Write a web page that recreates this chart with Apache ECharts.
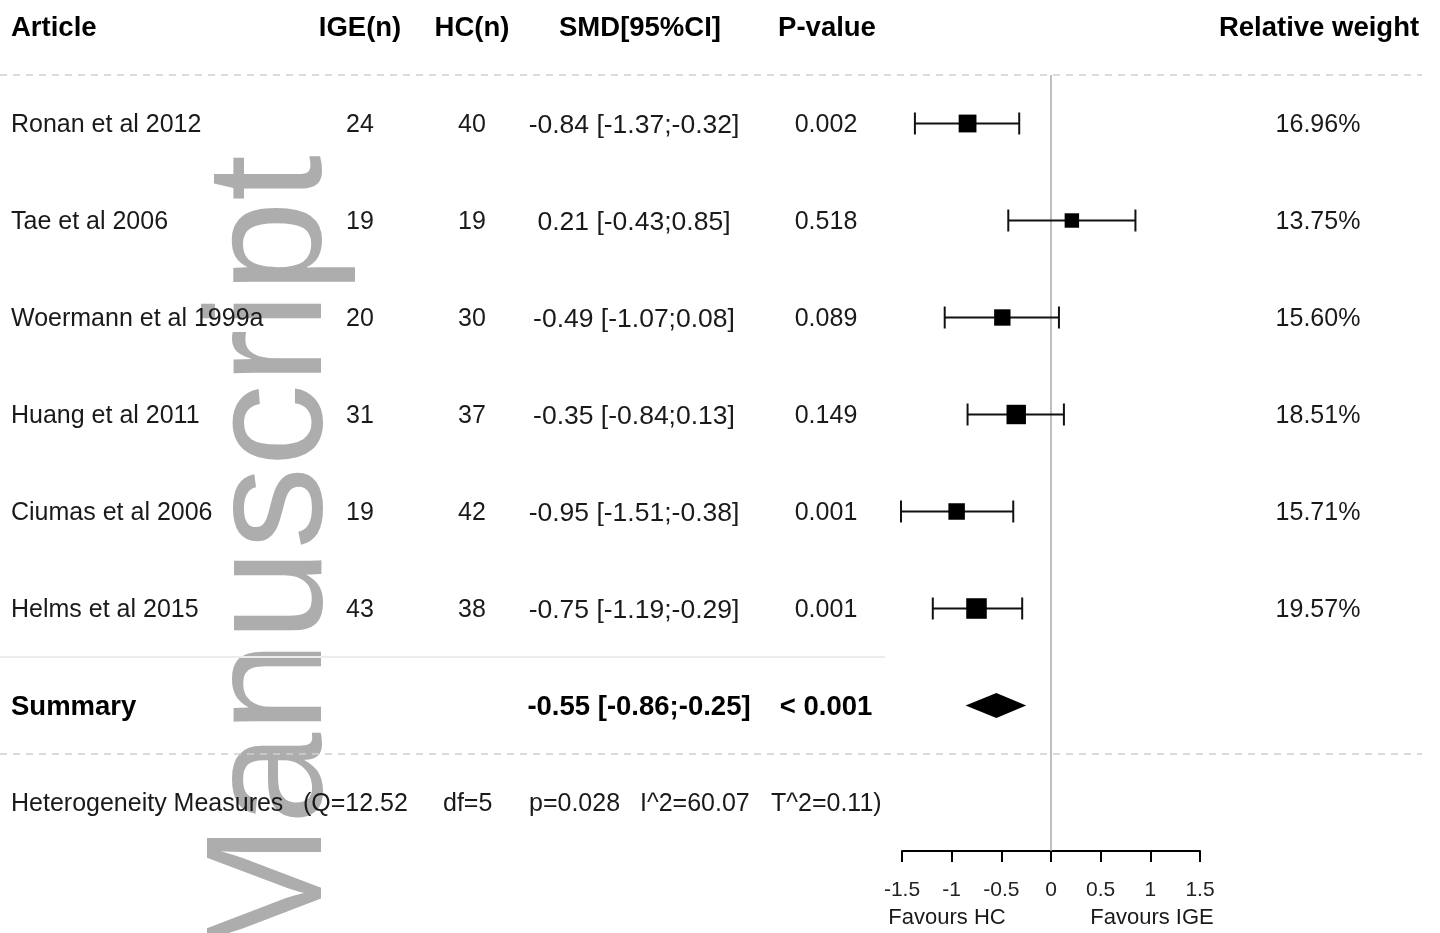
<!DOCTYPE html>
<html><head><meta charset="utf-8">
<script src="https://cdn.jsdelivr.net/npm/echarts@6/dist/echarts.min.js"></script>
<style>html,body{margin:0;padding:0;background:#fff}#c{width:1440px;height:933px}</style>
</head><body><div id="c"></div>
<script>
// ---- data ----
const articles = ['Ronan et al 2012','Tae et al 2006','Woermann et al 1999a','Huang et al 2011','Ciumas et al 2006','Helms et al 2015'];
const igeN = [24,19,20,31,19,43];
const hcN = [40,19,30,37,42,38];
const smd = [-0.84,0.21,-0.49,-0.35,-0.95,-0.75];
const ciLow = [-1.37,-0.43,-1.07,-0.84,-1.51,-1.19];
const ciHigh = [-0.32,0.85,0.08,0.13,-0.38,-0.29];
const pValues = ['0.002','0.518','0.089','0.149','0.001','0.001'];
const weights = [16.96,13.75,15.60,18.51,15.71,19.57];
const summaryLabel = 'Summary';
const summaryEst = -0.55, summaryLow = -0.86, summaryHigh = -0.25;
const summaryP = '< 0.001';
const headers = ['Article','IGE(n)','HC(n)','SMD[95%CI]','P-value','Relative weight'];
const heteroTitle = 'Heterogeneity Measures';
const heteroStats = ['(Q=12.52','df=5','p=0.028','I^2=60.07','T^2=0.11)'];
const xTicks = [-1.5,-1,-0.5,0,0.5,1,1.5];
const xTickLabels = ['-1.5','-1','-0.5','0','0.5','1','1.5'];
const favourLabels = ['Favours HC','Favours IGE'];
const watermark = 'Manuscript';

// ---- layout ----
const FONT = '"Liberation Sans", Arial, sans-serif';
const colX = {ige:360, hc:472, smd:634, p:826, w:1318};
const heteroX = [303, 443, 529, 640, 771];
const TY = 2; // text baseline nudge

const chart = echarts.init(document.getElementById('c'), null, {renderer:'canvas'});
const fmt = v => v.toFixed(2);
const studyData = smd.map((v,i)=>[i+1, ciLow[i], ciHigh[i], v, weights[i]]);

const option = {
  animation:false,
  backgroundColor:'#fff',
  grid:{left:902, right:240, top:75, bottom:82, containLabel:false, outerBoundsMode:'none'},
  xAxis:{type:'value', min:-1.5, max:1.5, interval:0.5,
    axisLine:{show:true, onZero:false, lineStyle:{color:'#000', width:2}},
    axisTick:{show:true, length:11, lineStyle:{color:'#000', width:2}},
    axisLabel:{margin:29, color:'#222', fontFamily:FONT, fontSize:21,
      formatter:v=>{const k=xTicks.findIndex(t=>Math.abs(t-v)<1e-9);return k>=0?xTickLabels[k]:'';}},
    splitLine:{show:false}},
  yAxis:{type:'value', min:0.5, max:8.5, inverse:true, show:false, splitLine:{show:false}},
  series:[
    {type:'custom', z:5, clip:false,
     encode:{x:[1,2,3], y:0},
     data:studyData,
     renderItem:(params, api)=>{
       const row=api.value(0), lo=api.value(1), hi=api.value(2), est=api.value(3), w=api.value(4);
       const a=api.coord([lo,row]), b=api.coord([hi,row]), e=api.coord([est,row]);
       const s=w*1.05, cap=11;
       const st={stroke:'#111', lineWidth:2};
       return {type:'group', children:[
         {type:'line', shape:{x1:a[0],y1:a[1],x2:b[0],y2:b[1]}, style:st},
         {type:'line', shape:{x1:a[0],y1:a[1]-cap,x2:a[0],y2:a[1]+cap}, style:st},
         {type:'line', shape:{x1:b[0],y1:b[1]-cap,x2:b[0],y2:b[1]+cap}, style:st},
         {type:'rect', shape:{x:e[0]-s/2,y:e[1]-s/2,width:s,height:s}, style:{fill:'#000'}}
       ]};
     }},
    {type:'custom', z:5, clip:false,
     encode:{x:[1,2,3], y:0},
     data:[[7, summaryLow, summaryHigh, summaryEst]],
     renderItem:(params, api)=>{
       const row=api.value(0);
       const a=api.coord([api.value(1),row]), b=api.coord([api.value(2),row]), e=api.coord([api.value(3),row]);
       const h=12.5;
       return {type:'polygon', shape:{points:[[a[0],a[1]],[e[0],e[1]-h],[b[0],b[1]],[e[0],e[1]+h]]}, style:{fill:'#000'}};
     }},
    {type:'line', z:3, symbol:'none', data:[],
     markLine:{silent:true, symbol:'none', label:{show:false},
       lineStyle:{color:'#aaa', width:1.5, type:'solid'}, data:[{xAxis:0}]}}
  ]
};
chart.setOption(option);

const py = r => chart.convertToPixel({yAxisIndex:0}, r);
const g = [];
const txt = (text, x, y, opt={}) => g.push({type:'text', x, y:y+TY, z:10,
  style:{text, fill:opt.fill||'#1a1a1a', font:(opt.bold?'bold ':'')+(opt.size||25)+'px '+FONT,
    align:opt.align||'center', verticalAlign:'middle'}});

// watermark
g.push({type:'text', x:275, y:962, rotation:Math.PI/2, z:1,
  style:{text:watermark, fill:'#adadad', font:'165px '+FONT, align:'left', verticalAlign:'middle'}});

// headers
const hy = py(0);
const HB = {bold:true, size:27.5, fill:'#000'};
txt(headers[0], 11, hy, Object.assign({align:'left'}, HB));
txt(headers[1], colX.ige, hy, HB);
txt(headers[2], colX.hc, hy, HB);
txt(headers[3], 640, hy, HB);
txt(headers[4], 827, hy, HB);
txt(headers[5], 1319, hy, HB);

// study rows
articles.forEach((a,i)=>{
  const y = py(i+1);
  txt(a, 11, y, {align:'left'});
  txt(String(igeN[i]), colX.ige, y);
  txt(String(hcN[i]), colX.hc, y);
  txt(fmt(smd[i])+' ['+fmt(ciLow[i])+';'+fmt(ciHigh[i])+']', colX.smd, y, {size:26.5});
  txt(pValues[i], colX.p, y);
  txt(fmt(weights[i])+'%', colX.w, y);
});

// summary row
const sy = py(7);
txt(summaryLabel, 11, sy, Object.assign({align:'left'}, HB));
txt(fmt(summaryEst)+' ['+fmt(summaryLow)+';'+fmt(summaryHigh)+']', 639, sy, HB);
txt(summaryP, 826, sy, HB);

// heterogeneity
const ty = py(8);
txt(heteroTitle, 11, ty, {align:'left'});
heteroStats.forEach((s,i)=>txt(s, heteroX[i], ty, {align:'left'}));

// favours labels
txt(favourLabels[0], 947, 916, {size:22});
txt(favourLabels[1], 1152, 916, {size:22});

// separators
const dash = y => g.push({type:'line', z:2, shape:{x1:0,y1:y,x2:1422,y2:y},
  style:{stroke:'#cfcfcf', lineWidth:1.5, lineDash:[7,6]}});
dash(py(0.5)); dash(py(7.5));
g.push({type:'line', z:2, shape:{x1:0,y1:py(6.5),x2:885,y2:py(6.5)}, style:{stroke:'#ececec', lineWidth:2}});

chart.setOption({graphic:g});
</script></body></html>
